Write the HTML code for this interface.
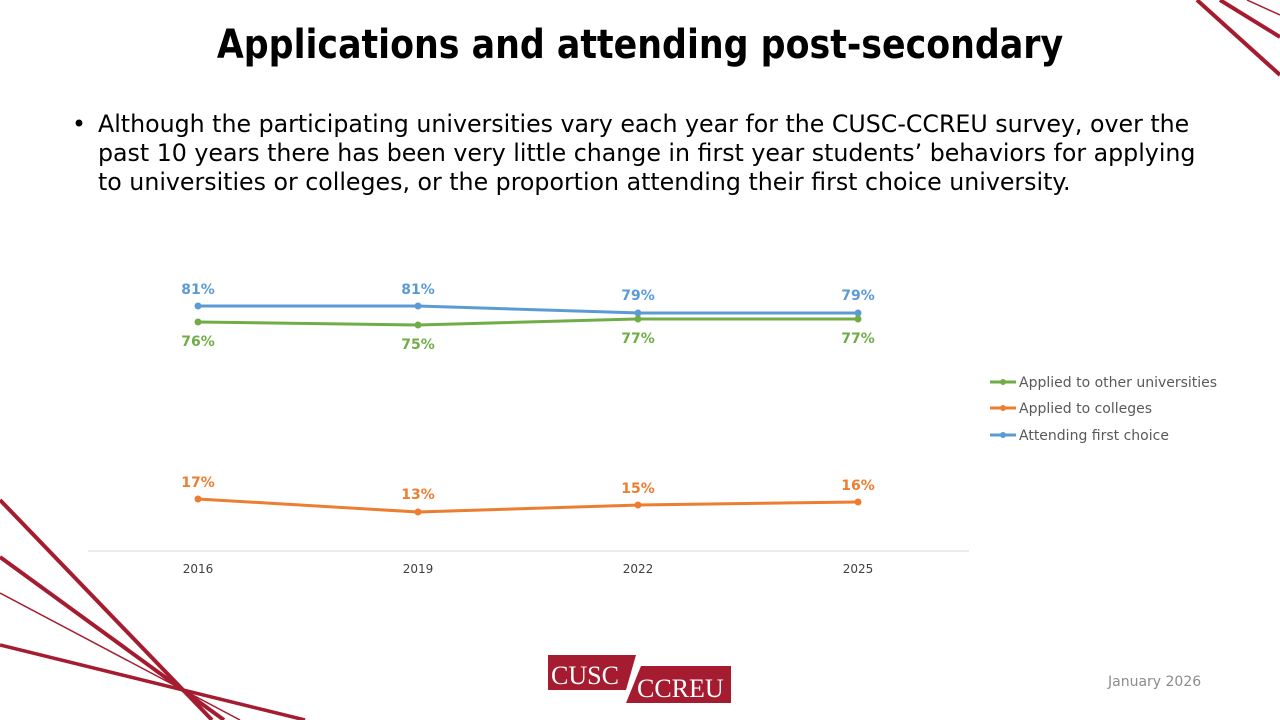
<!DOCTYPE html>
<html><head><meta charset="utf-8"><style>
body{margin:0;width:1280px;height:720px;background:#fff;overflow:hidden;position:relative;font-family:"DejaVu Sans","Liberation Sans",sans-serif}
h1{position:absolute;top:22px;left:0;width:1280px;text-align:center;margin:0;font-size:40px;font-weight:bold;color:#000;transform:scaleX(0.87);transform-origin:640px 0}
.b{position:absolute;left:72px;top:110px;width:1200px;font-size:23.7px;line-height:29px;color:#000;white-space:nowrap}
.b span{position:absolute;left:0}
.b p{margin:0 0 0 26px}
</style></head><body>
<h1>Applications and attending post-secondary</h1>
<div class="b"><span>•</span><p>Although the participating universities vary each year for the CUSC-CCREU survey, over the<br>past 10 years there has been very little change in first year students’ behaviors for applying<br>to universities or colleges, or the proportion attending their first choice university.</p></div>
<svg width="1280" height="720" style="position:absolute;left:0;top:0" font-family="DejaVu Sans, Liberation Sans, sans-serif">
<g stroke="#a51c30">
<line x1="1197" y1="0" x2="1280" y2="75" stroke-width="4"/>
<line x1="1220" y1="0" x2="1280" y2="37" stroke-width="4"/>
<line x1="1247" y1="0" x2="1280" y2="15" stroke-width="1.5"/>
<line x1="0" y1="500" x2="212" y2="720" stroke-width="4"/>
<line x1="0" y1="557" x2="224" y2="720" stroke-width="4"/>
<line x1="0" y1="593" x2="240" y2="720" stroke-width="1.5"/>
<line x1="0" y1="645" x2="305" y2="720" stroke-width="3.5"/>
</g>
<line x1="88" y1="551" x2="969" y2="551" stroke="#d9d9d9" stroke-width="1"/>
<g font-size="12" fill="#404040" text-anchor="middle">
<text x="198" y="573">2016</text><text x="418" y="573">2019</text><text x="638" y="573">2022</text><text x="858" y="573">2025</text></g>
<g stroke-width="3" fill="none">
<polyline points="198,306 418,306 638,313 858,313" stroke="#5b9bd5"/>
<polyline points="198,322 418,325 638,319 858,319" stroke="#70ad47"/>
<polyline points="198,499 418,512 638,505 858,502" stroke="#ed7d31"/>
</g>
<g fill="#5b9bd5"><circle cx="198" cy="306" r="3.5"/><circle cx="418" cy="306" r="3.5"/><circle cx="638" cy="313" r="3.5"/><circle cx="858" cy="313" r="3.5"/></g>
<g fill="#70ad47"><circle cx="198" cy="322" r="3.5"/><circle cx="418" cy="325" r="3.5"/><circle cx="638" cy="319" r="3.5"/><circle cx="858" cy="319" r="3.5"/></g>
<g fill="#ed7d31"><circle cx="198" cy="499" r="3.5"/><circle cx="418" cy="512" r="3.5"/><circle cx="638" cy="505" r="3.5"/><circle cx="858" cy="502" r="3.5"/></g>
<g font-size="14" font-weight="bold" text-anchor="middle">
<g fill="#5b9bd5"><text x="198" y="294">81%</text><text x="418" y="294">81%</text><text x="638" y="300">79%</text><text x="858" y="300">79%</text></g>
<g fill="#70ad47"><text x="198" y="346">76%</text><text x="418" y="349">75%</text><text x="638" y="343">77%</text><text x="858" y="343">77%</text></g>
<g fill="#ed7d31"><text x="198" y="487">17%</text><text x="418" y="499">13%</text><text x="638" y="493">15%</text><text x="858" y="490">16%</text></g>
</g>
<g font-size="14" fill="#595959">
<line x1="990" y1="382" x2="1016" y2="382" stroke="#70ad47" stroke-width="3"/><circle cx="1003" cy="382" r="3" fill="#70ad47"/><text x="1019" y="387">Applied to other universities</text>
<line x1="990" y1="408" x2="1016" y2="408" stroke="#ed7d31" stroke-width="3"/><circle cx="1003" cy="408" r="3" fill="#ed7d31"/><text x="1019" y="413">Applied to colleges</text>
<line x1="990" y1="435" x2="1016" y2="435" stroke="#5b9bd5" stroke-width="3"/><circle cx="1003" cy="435" r="3" fill="#5b9bd5"/><text x="1019" y="440">Attending first choice</text>
</g>
<polygon points="548,655 636,655 626,690 548,690" fill="#a51c30"/>
<polygon points="641,666 731,666 731,703 626,703" fill="#a51c30"/>
<g fill="#fff" font-family="Liberation Serif, serif" font-size="26">
<text x="551" y="684">CUSC</text><text x="637" y="697">CCREU</text></g>
<text x="1108" y="686" font-size="14" fill="#8c8c8c">January 2026</text>
</svg>
</body></html>
